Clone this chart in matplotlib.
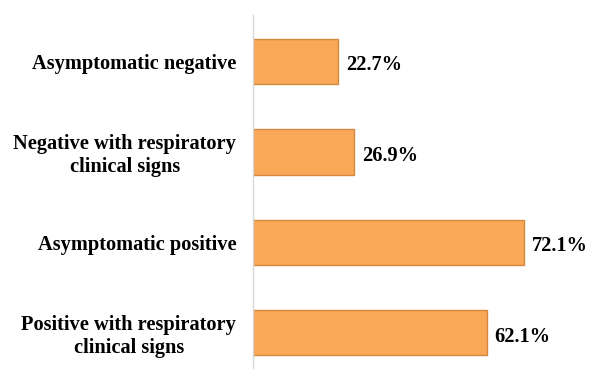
import matplotlib.pyplot as plt

# percentages per group
grupos = ['Asymptomatic negative',
          'Negative with respiratory\nclinical signs',
          'Asymptomatic positive',
          'Positive with respiratory\nclinical signs']
valores = [22.7, 26.9, 72.1, 62.1]
rotulos = ['22.7%', '26.9%', '72.1%', '62.1%']

plt.rcParams['font.family'] = ['Liberation Serif', 'DejaVu Serif']
plt.rcParams['font.weight'] = 'bold'

fig = plt.figure(figsize=(5.9, 3.69), dpi=100)
ax = fig.add_axes([253 / 590, 0, 1 - 253 / 590, (369 - 15) / 369])

pos = list(range(len(grupos)))
barras = ax.barh(pos, valores, height=0.5, color='#F9A857', edgecolor='#D4873F', linewidth=1.0)

# value labels right of each bar
for b, txt in zip(barras, rotulos):
    ax.annotate(txt, (b.get_width(), b.get_y() + b.get_height() / 2),
                xytext=(8, -4), textcoords='offset pixels',
                ha='left', va='center', fontsize=14.7, fontweight='bold')

ax.set_yticks(pos)
ax.set_yticklabels(grupos, fontsize=14.7, fontweight='bold',
                   multialignment='center', linespacing=1.15)
ax.tick_params(axis='y', length=0, pad=12)
ax.set_ylim(3.40, -0.514)
ax.set_xlim(0, 89.6)
ax.set_xticks([])

for lado in ['top', 'right', 'bottom']:
    ax.spines[lado].set_visible(False)
ax.spines['left'].set_color('#D9D9D9')
ax.spines['left'].set_linewidth(1.0)

plt.savefig('out.png', dpi=100)
